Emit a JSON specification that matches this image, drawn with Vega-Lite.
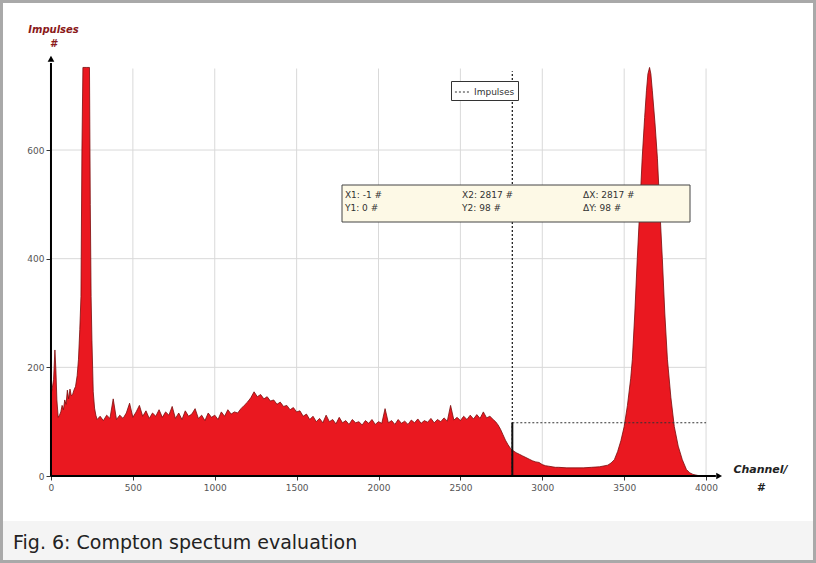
{
  "$schema": "https://vega.github.io/schema/vega-lite/v6.json",
  "background": "#a9a9a9",
  "padding": 3,
  "spacing": 0,
  "config": {"font": "DejaVu Sans", "concat": {"spacing": 0}},
  "datasets": {
    "spectrum": [
      {"channel": 0, "impulses": 150}, {"channel": 8, "impulses": 162}, {"channel": 16, "impulses": 178}, {"channel": 24, "impulses": 232},
      {"channel": 30, "impulses": 195}, {"channel": 36, "impulses": 140}, {"channel": 44, "impulses": 108}, {"channel": 52, "impulses": 112},
      {"channel": 60, "impulses": 118}, {"channel": 68, "impulses": 130}, {"channel": 76, "impulses": 122}, {"channel": 84, "impulses": 140},
      {"channel": 92, "impulses": 132}, {"channel": 100, "impulses": 158}, {"channel": 108, "impulses": 142}, {"channel": 116, "impulses": 160},
      {"channel": 124, "impulses": 148}, {"channel": 132, "impulses": 150}, {"channel": 140, "impulses": 158}, {"channel": 150, "impulses": 165},
      {"channel": 160, "impulses": 185}, {"channel": 168, "impulses": 215}, {"channel": 176, "impulses": 270}, {"channel": 183, "impulses": 330},
      {"channel": 189, "impulses": 600}, {"channel": 195, "impulses": 752}, {"channel": 215, "impulses": 752}, {"channel": 235, "impulses": 752},
      {"channel": 240, "impulses": 500}, {"channel": 245, "impulses": 330}, {"channel": 250, "impulses": 250}, {"channel": 258, "impulses": 155},
      {"channel": 266, "impulses": 125}, {"channel": 274, "impulses": 112}, {"channel": 282, "impulses": 104},
      {"channel": 300, "impulses": 110}, {"channel": 320, "impulses": 102}, {"channel": 340, "impulses": 112}, {"channel": 360, "impulses": 106},
      {"channel": 380, "impulses": 142}, {"channel": 400, "impulses": 104}, {"channel": 420, "impulses": 112}, {"channel": 440, "impulses": 106},
      {"channel": 460, "impulses": 116}, {"channel": 480, "impulses": 134}, {"channel": 500, "impulses": 108}, {"channel": 520, "impulses": 118},
      {"channel": 540, "impulses": 130}, {"channel": 560, "impulses": 110}, {"channel": 580, "impulses": 120}, {"channel": 600, "impulses": 106},
      {"channel": 620, "impulses": 116}, {"channel": 640, "impulses": 110}, {"channel": 660, "impulses": 122}, {"channel": 680, "impulses": 108},
      {"channel": 700, "impulses": 118}, {"channel": 720, "impulses": 112}, {"channel": 740, "impulses": 128}, {"channel": 760, "impulses": 106},
      {"channel": 780, "impulses": 116}, {"channel": 800, "impulses": 104}, {"channel": 820, "impulses": 120}, {"channel": 840, "impulses": 110},
      {"channel": 860, "impulses": 114}, {"channel": 880, "impulses": 124}, {"channel": 900, "impulses": 106}, {"channel": 920, "impulses": 112},
      {"channel": 940, "impulses": 102}, {"channel": 960, "impulses": 116}, {"channel": 980, "impulses": 108}, {"channel": 1000, "impulses": 112},
      {"channel": 1020, "impulses": 104}, {"channel": 1040, "impulses": 118}, {"channel": 1060, "impulses": 110}, {"channel": 1080, "impulses": 122},
      {"channel": 1100, "impulses": 114}, {"channel": 1120, "impulses": 118}, {"channel": 1140, "impulses": 116}, {"channel": 1160, "impulses": 124},
      {"channel": 1180, "impulses": 130}, {"channel": 1200, "impulses": 136}, {"channel": 1220, "impulses": 144}, {"channel": 1240, "impulses": 155},
      {"channel": 1260, "impulses": 146}, {"channel": 1280, "impulses": 150}, {"channel": 1300, "impulses": 142}, {"channel": 1320, "impulses": 146},
      {"channel": 1340, "impulses": 138}, {"channel": 1360, "impulses": 140}, {"channel": 1380, "impulses": 132}, {"channel": 1400, "impulses": 136},
      {"channel": 1420, "impulses": 128}, {"channel": 1440, "impulses": 130}, {"channel": 1460, "impulses": 122}, {"channel": 1480, "impulses": 126},
      {"channel": 1500, "impulses": 118}, {"channel": 1520, "impulses": 120}, {"channel": 1540, "impulses": 110}, {"channel": 1560, "impulses": 114},
      {"channel": 1580, "impulses": 104}, {"channel": 1600, "impulses": 110}, {"channel": 1620, "impulses": 100}, {"channel": 1640, "impulses": 106},
      {"channel": 1660, "impulses": 98}, {"channel": 1680, "impulses": 112}, {"channel": 1700, "impulses": 100}, {"channel": 1720, "impulses": 104},
      {"channel": 1740, "impulses": 96}, {"channel": 1760, "impulses": 108}, {"channel": 1780, "impulses": 98}, {"channel": 1800, "impulses": 102},
      {"channel": 1820, "impulses": 95}, {"channel": 1840, "impulses": 104}, {"channel": 1860, "impulses": 98}, {"channel": 1880, "impulses": 100},
      {"channel": 1900, "impulses": 94}, {"channel": 1920, "impulses": 102}, {"channel": 1940, "impulses": 97}, {"channel": 1960, "impulses": 104},
      {"channel": 1980, "impulses": 95}, {"channel": 2000, "impulses": 100}, {"channel": 2020, "impulses": 97}, {"channel": 2040, "impulses": 124},
      {"channel": 2060, "impulses": 98}, {"channel": 2080, "impulses": 102}, {"channel": 2100, "impulses": 95}, {"channel": 2120, "impulses": 104},
      {"channel": 2140, "impulses": 97}, {"channel": 2160, "impulses": 101}, {"channel": 2180, "impulses": 95}, {"channel": 2200, "impulses": 103},
      {"channel": 2220, "impulses": 98}, {"channel": 2240, "impulses": 105}, {"channel": 2260, "impulses": 97}, {"channel": 2280, "impulses": 102},
      {"channel": 2300, "impulses": 99}, {"channel": 2320, "impulses": 106}, {"channel": 2340, "impulses": 98}, {"channel": 2360, "impulses": 104},
      {"channel": 2380, "impulses": 100}, {"channel": 2400, "impulses": 107}, {"channel": 2420, "impulses": 101}, {"channel": 2440, "impulses": 130},
      {"channel": 2460, "impulses": 103}, {"channel": 2480, "impulses": 108}, {"channel": 2500, "impulses": 102}, {"channel": 2520, "impulses": 110},
      {"channel": 2540, "impulses": 104}, {"channel": 2560, "impulses": 112}, {"channel": 2580, "impulses": 105}, {"channel": 2600, "impulses": 113},
      {"channel": 2620, "impulses": 106}, {"channel": 2640, "impulses": 118}, {"channel": 2660, "impulses": 107}, {"channel": 2680, "impulses": 110},
      {"channel": 2700, "impulses": 104}, {"channel": 2715, "impulses": 100}, {"channel": 2730, "impulses": 94}, {"channel": 2745, "impulses": 86},
      {"channel": 2760, "impulses": 76}, {"channel": 2775, "impulses": 66}, {"channel": 2790, "impulses": 58}, {"channel": 2805, "impulses": 51},
      {"channel": 2820, "impulses": 47}, {"channel": 2840, "impulses": 43}, {"channel": 2860, "impulses": 40}, {"channel": 2880, "impulses": 37},
      {"channel": 2900, "impulses": 34}, {"channel": 2920, "impulses": 31}, {"channel": 2940, "impulses": 28}, {"channel": 2960, "impulses": 26},
      {"channel": 2980, "impulses": 25}, {"channel": 3000, "impulses": 21}, {"channel": 3020, "impulses": 19}, {"channel": 3040, "impulses": 18},
      {"channel": 3060, "impulses": 17}, {"channel": 3080, "impulses": 16}, {"channel": 3100, "impulses": 16}, {"channel": 3150, "impulses": 15},
      {"channel": 3200, "impulses": 15}, {"channel": 3250, "impulses": 15}, {"channel": 3300, "impulses": 16}, {"channel": 3350, "impulses": 17},
      {"channel": 3400, "impulses": 20}, {"channel": 3420, "impulses": 24}, {"channel": 3440, "impulses": 30}, {"channel": 3460, "impulses": 45},
      {"channel": 3480, "impulses": 65}, {"channel": 3500, "impulses": 91}, {"channel": 3520, "impulses": 130}, {"channel": 3540, "impulses": 180},
      {"channel": 3550, "impulses": 215}, {"channel": 3565, "impulses": 300}, {"channel": 3580, "impulses": 400}, {"channel": 3595, "impulses": 490},
      {"channel": 3610, "impulses": 585}, {"channel": 3625, "impulses": 660}, {"channel": 3636, "impulses": 709}, {"channel": 3645, "impulses": 740},
      {"channel": 3655, "impulses": 752}, {"channel": 3663, "impulses": 740}, {"channel": 3672, "impulses": 709}, {"channel": 3688, "impulses": 650},
      {"channel": 3703, "impulses": 585}, {"channel": 3718, "impulses": 490}, {"channel": 3733, "impulses": 400}, {"channel": 3748, "impulses": 300},
      {"channel": 3764, "impulses": 215}, {"channel": 3785, "impulses": 145}, {"channel": 3806, "impulses": 91}, {"channel": 3830, "impulses": 55},
      {"channel": 3855, "impulses": 30}, {"channel": 3880, "impulses": 12}, {"channel": 3900, "impulses": 6}, {"channel": 3920, "impulses": 3},
      {"channel": 3950, "impulses": 1}, {"channel": 4000, "impulses": 0}
    ],
    "xgrid": [{"tick": 500}, {"tick": 1000}, {"tick": 1500}, {"tick": 2000}, {"tick": 2500}, {"tick": 3000}, {"tick": 3500}, {"tick": 4000}],
    "ygrid": [{"tick": 200}, {"tick": 400}, {"tick": 600}],
    "cursor": [{"series": "Impulses"}],
    "one": [{"n": 1}]
  },
  "vconcat": [
    {
      "width": 810,
      "height": 518,
      "view": {"fill": "white", "stroke": null},
      "layer": [
        {
          "data": {"name": "xgrid"},
          "mark": {"type": "rule", "color": "#d9d9d9", "strokeWidth": 1},
          "encoding": {
            "x": {"field": "tick", "type": "quantitative", "scale": {"domain": [-293, 4653], "nice": false, "zero": false}},
            "y": {"datum": 0, "scale": {"domain": [-82.8, 870.6], "nice": false, "zero": false}},
            "y2": {"datum": 750}
          }
        },
        {
          "data": {"name": "ygrid"},
          "mark": {"type": "rule", "color": "#d9d9d9", "strokeWidth": 1},
          "encoding": {
            "y": {"field": "tick", "type": "quantitative", "scale": {"domain": [-82.8, 870.6], "nice": false, "zero": false}},
            "x": {"datum": 0, "scale": {"domain": [-293, 4653], "nice": false, "zero": false}},
            "x2": {"datum": 4000}
          }
        },
        {
          "data": {"name": "spectrum"},
          "mark": {"type": "area", "color": "#ea1820", "opacity": 1},
          "encoding": {
            "x": {
              "field": "channel", "type": "quantitative",
              "scale": {"domain": [-293, 4653], "nice": false, "zero": false},
              "axis": {
                "orient": "bottom", "offset": -45, "values": [0, 500, 1000, 1500, 2000, 2500, 3000, 3500, 4000], "format": "d",
                "domain": false, "grid": false, "tickSize": 4, "tickColor": "#333", "tickWidth": 1,
                "labelFontSize": 9, "labelColor": "#555", "labelPadding": 3,
                "title": ["Channel/", "#"], "titleX": 757, "titleY": -4, "titleAlign": "center", "titleBaseline": "alphabetic",
                "titleAngle": 0, "titleFontStyle": "italic", "titleFontWeight": "bold", "titleFontSize": 11,
                "titleColor": "#222", "titleLineHeight": 18
              }
            },
            "y": {
              "field": "impulses", "type": "quantitative",
              "scale": {"domain": [-82.8, 870.6], "nice": false, "zero": false},
              "axis": {
                "orient": "left", "offset": -48, "values": [0, 200, 400, 600], "format": "d",
                "domain": false, "grid": false, "tickSize": 5, "tickColor": "#333", "tickWidth": 1,
                "labelFontSize": 9, "labelColor": "#555", "labelPadding": 2,
                "title": ["Impulses", "#"], "titleX": 2, "titleY": 29, "titleAlign": "center", "titleBaseline": "alphabetic",
                "titleAngle": 0, "titleFontStyle": "italic", "titleFontWeight": "bold", "titleFontSize": 10,
                "titleColor": "#8b1a1a", "titleLineHeight": 14
              }
            },
            "y2": {"datum": 0}
          }
        },
        {
          "data": {"name": "spectrum"},
          "mark": {"type": "line", "color": "#7a0b0b", "strokeWidth": 0.8},
          "encoding": {
            "x": {"field": "channel", "type": "quantitative", "scale": {"domain": [-293, 4653], "nice": false, "zero": false}},
            "y": {"field": "impulses", "type": "quantitative", "scale": {"domain": [-82.8, 870.6], "nice": false, "zero": false}}
          }
        },
        {
          "data": {"name": "cursor"},
          "mark": {"type": "rule", "color": "#222", "strokeWidth": 1.3},
          "encoding": {
            "x": {"datum": 2817, "scale": {"domain": [-293, 4653], "nice": false, "zero": false}},
            "y": {"datum": 0, "scale": {"domain": [-82.8, 870.6], "nice": false, "zero": false}},
            "y2": {"datum": 745},
            "strokeDash": {
              "field": "series", "type": "nominal",
              "scale": {"range": [[2, 2]]},
              "legend": {
                "orient": "none", "legendX": 448, "legendY": 78, "title": null,
                "symbolType": "stroke", "symbolStrokeColor": "#444", "symbolStrokeWidth": 1, "symbolDash": [2, 1], "symbolSize": 200,
                "labelFontSize": 9, "labelColor": "#333", "labelOffset": 4,
                "padding": 3, "strokeColor": "#333", "fillColor": "white"
              }
            }
          }
        },
        {
          "data": {"name": "cursor"},
          "mark": {"type": "rule", "color": "#333", "strokeWidth": 1.2},
          "encoding": {
            "y": {"datum": 98, "scale": {"domain": [-82.8, 870.6], "nice": false, "zero": false}},
            "x": {"datum": 2817, "scale": {"domain": [-293, 4653], "nice": false, "zero": false}},
            "x2": {"datum": 4000},
            "strokeDash": {"field": "series", "type": "nominal"}
          }
        },
        {
          "data": {"name": "one"},
          "mark": {"type": "rule", "color": "#111", "strokeWidth": 2},
          "encoding": {
            "x": {"datum": 2817, "scale": {"domain": [-293, 4653], "nice": false, "zero": false}},
            "y": {"datum": 0, "scale": {"domain": [-82.8, 870.6], "nice": false, "zero": false}},
            "y2": {"datum": 98}
          }
        },
        {
          "data": {"name": "one"},
          "mark": {"type": "rule", "color": "#000", "strokeWidth": 2},
          "encoding": {
            "x": {"datum": 0, "scale": {"domain": [-293, 4653], "nice": false, "zero": false}},
            "x2": {"datum": 4060},
            "y": {"datum": 0, "scale": {"domain": [-82.8, 870.6], "nice": false, "zero": false}}
          }
        },
        {
          "data": {"name": "one"},
          "mark": {"type": "rule", "color": "#000", "strokeWidth": 2},
          "encoding": {
            "x": {"datum": 0, "scale": {"domain": [-293, 4653], "nice": false, "zero": false}},
            "y": {"datum": 0, "scale": {"domain": [-82.8, 870.6], "nice": false, "zero": false}},
            "y2": {"datum": 760}
          }
        },
        {
          "data": {"name": "one"},
          "mark": {"type": "point", "shape": "triangle-right", "filled": true, "color": "#000", "size": 45, "opacity": 1},
          "encoding": {
            "x": {"datum": 4080, "scale": {"domain": [-293, 4653], "nice": false, "zero": false}},
            "y": {"datum": 0, "scale": {"domain": [-82.8, 870.6], "nice": false, "zero": false}}
          }
        },
        {
          "data": {"name": "one"},
          "mark": {"type": "point", "shape": "triangle-up", "filled": true, "color": "#000", "size": 45, "opacity": 1},
          "encoding": {
            "x": {"datum": 0, "scale": {"domain": [-293, 4653], "nice": false, "zero": false}},
            "y": {"datum": 768, "scale": {"domain": [-82.8, 870.6], "nice": false, "zero": false}}
          }
        },
        {
          "data": {"name": "one"},
          "mark": {"type": "rect", "fill": "#fdf9e6", "stroke": "#444", "strokeWidth": 1},
          "encoding": {
            "x": {"datum": 1777, "scale": {"domain": [-293, 4653], "nice": false, "zero": false}},
            "x2": {"datum": 3902},
            "y": {"datum": 467.5, "scale": {"domain": [-82.8, 870.6], "nice": false, "zero": false}},
            "y2": {"datum": 535.6}
          }
        },
        {
          "data": {"name": "one"},
          "mark": {"type": "text", "align": "left", "baseline": "middle", "fontSize": 9, "color": "#333", "lineHeight": 13},
          "encoding": {
            "x": {"datum": 1795, "scale": {"domain": [-293, 4653], "nice": false, "zero": false}},
            "y": {"datum": 517, "scale": {"domain": [-82.8, 870.6], "nice": false, "zero": false}},
            "text": {"value": ["X1:  -1 #", "Y1:  0 #"]}
          }
        },
        {
          "data": {"name": "one"},
          "mark": {"type": "text", "align": "left", "baseline": "middle", "fontSize": 9, "color": "#333", "lineHeight": 13},
          "encoding": {
            "x": {"datum": 2510, "scale": {"domain": [-293, 4653], "nice": false, "zero": false}},
            "y": {"datum": 517, "scale": {"domain": [-82.8, 870.6], "nice": false, "zero": false}},
            "text": {"value": ["X2:  2817 #", "Y2:  98 #"]}
          }
        },
        {
          "data": {"name": "one"},
          "mark": {"type": "text", "align": "left", "baseline": "middle", "fontSize": 9, "color": "#333", "lineHeight": 13},
          "encoding": {
            "x": {"datum": 3249, "scale": {"domain": [-293, 4653], "nice": false, "zero": false}},
            "y": {"datum": 517, "scale": {"domain": [-82.8, 870.6], "nice": false, "zero": false}},
            "text": {"value": ["ΔX:  2817 #", "ΔY:  98 #"]}
          }
        }
      ]
    },
    {
      "width": 810,
      "height": 39,
      "view": {"fill": "#f4f4f4", "stroke": null},
      "title": {
        "text": "Fig. 6: Compton spectum evaluation",
        "orient": "bottom", "anchor": "start", "frame": "group", "offset": -11, "dx": 10,
        "baseline": "alphabetic", "fontSize": 19, "fontWeight": "normal", "color": "#222", "font": "DejaVu Sans"
      },
      "data": {"values": []},
      "mark": {"type": "text"},
      "encoding": {}
    }
  ]
}
